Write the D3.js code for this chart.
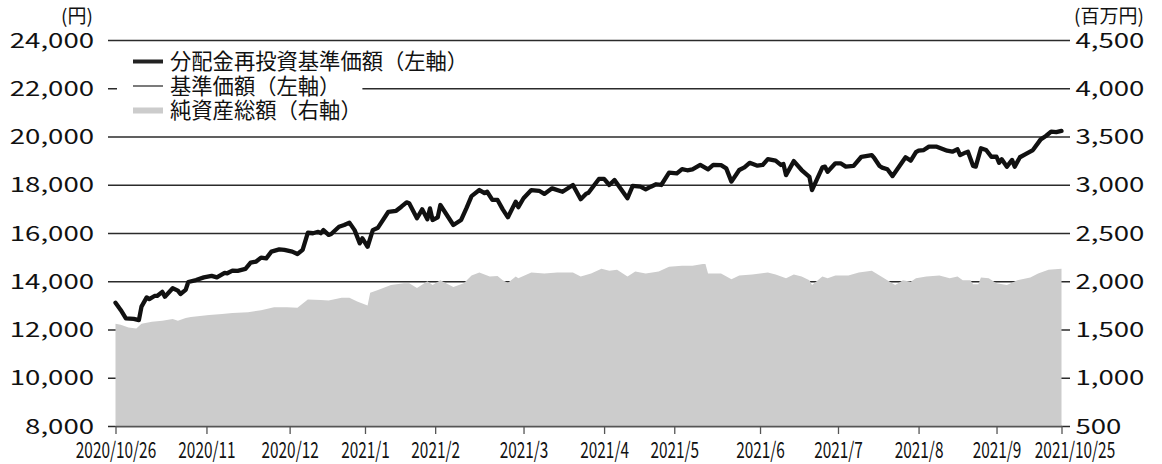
<!DOCTYPE html>
<html>
<head>
<meta charset="UTF-8">
<title>基準価額・純資産の推移</title>
<script src="https://cdn.jsdelivr.net/npm/d3@7"></script>
<style>
  body { margin: 0; background: #fff; }
  svg { display: block; font-family: "Noto Sans CJK JP", "Noto Sans", sans-serif; }
  .grid line { stroke: #2b2b2b; stroke-width: 1.3; }
  .grid .domain { display: none; }
  .area { fill: #cccccc; }
  .nav { fill: none; stroke: #111; stroke-width: 4.3; stroke-linejoin: round; stroke-linecap: round; }
  .nav-thin { fill: none; stroke: #111; stroke-width: 1.2; }
  .xaxis line, .xaxis path { stroke: #555; stroke-width: 1.3; }
</style>
</head>
<body>
<div id="graphe"></div>
<script>
// 分配金再投資基準価額（円）: 日付と値
var navDates = ["2020-10-26","2020-10-28","2020-10-30","2020-11-02","2020-11-04","2020-11-05","2020-11-07","2020-11-08","2020-11-10","2020-11-11",
  "2020-11-13","2020-11-14","2020-11-17","2020-11-19","2020-11-20","2020-11-22","2020-11-23","2020-11-26","2020-11-29","2020-12-02",
  "2020-12-04","2020-12-07","2020-12-08","2020-12-10","2020-12-12","2020-12-15","2020-12-17","2020-12-19","2020-12-21","2020-12-23",
  "2020-12-25","2020-12-28","2020-12-30","2021-01-02","2021-01-04","2021-01-06","2021-01-08","2021-01-10","2021-01-12","2021-01-13",
  "2021-01-14","2021-01-16","2021-01-17","2021-01-20","2021-01-22","2021-01-24","2021-01-26","2021-01-28","2021-01-29","2021-01-31",
  "2021-02-02","2021-02-04","2021-02-08","2021-02-11","2021-02-13","2021-02-15","2021-02-16","2021-02-19","2021-02-21","2021-02-23",
  "2021-02-24","2021-02-25","2021-02-27","2021-02-28","2021-03-05","2021-03-08","2021-03-10","2021-03-12","2021-03-15","2021-03-17",
  "2021-03-18","2021-03-20","2021-03-22","2021-03-24","2021-03-26","2021-03-29","2021-03-30","2021-04-01","2021-04-04","2021-04-07",
  "2021-04-09","2021-04-12","2021-04-16","2021-04-20","2021-04-23","2021-04-25","2021-04-26","2021-04-30","2021-05-02","2021-05-04",
  "2021-05-06","2021-05-11","2021-05-13","2021-05-16","2021-05-18","2021-05-20","2021-05-22","2021-05-24","2021-05-27","2021-05-30",
  "2021-06-01","2021-06-03","2021-06-05","2021-06-08","2021-06-11","2021-06-13","2021-06-16","2021-06-18","2021-06-20","2021-06-23",
  "2021-06-25","2021-06-27","2021-06-30","2021-07-02","2021-07-04","2021-07-07","2021-07-09","2021-07-10","2021-07-11","2021-07-14",
  "2021-07-17","2021-07-20","2021-07-21","2021-07-25","2021-07-26","2021-07-27","2021-07-30","2021-08-01","2021-08-03","2021-08-06",
  "2021-08-09","2021-08-13","2021-08-14","2021-08-16","2021-08-17","2021-08-19","2021-08-21","2021-08-26","2021-08-28","2021-08-30",
  "2021-08-31","2021-09-02","2021-09-04","2021-09-07","2021-09-11","2021-09-13","2021-09-15","2021-09-16","2021-09-18","2021-09-19",
  "2021-09-21","2021-09-22","2021-09-24","2021-09-26","2021-09-28","2021-09-30","2021-10-01","2021-10-02","2021-10-04","2021-10-06",
  "2021-10-07","2021-10-09","2021-10-11","2021-10-14","2021-10-17","2021-10-19","2021-10-21","2021-10-23","2021-10-25"];
var navValues = [13110,12810,12460,12440,12390,12950,13330,13260,13390,13390,
  13560,13360,13710,13610,13470,13640,13970,14050,14160,14220,
  14160,14350,14330,14440,14430,14510,14770,14810,14980,14950,
  15230,15320,15300,15230,15130,15300,16010,15990,16050,15990,
  16120,15920,15960,16260,16330,16430,16120,15570,15780,15430,
  16120,16220,16880,16920,17090,17270,17230,16610,16980,16570,
  17020,16540,16650,17160,16330,16540,17020,17530,17780,17650,
  17710,17370,17370,16980,16650,17300,17070,17440,17780,17750,
  17620,17850,17710,17990,17400,17620,17670,18240,18240,17990,
  18200,17440,17950,17920,17810,17920,18020,17990,18500,18470,
  18650,18600,18640,18820,18640,18820,18810,18680,18130,18610,
  18720,18910,18790,18820,19060,19000,18820,18860,18400,18980,
  18610,18330,17780,18720,18750,18540,18890,18890,18750,18780,
  19160,19230,19100,18780,18710,18640,18360,19140,19000,19350,
  19410,19440,19580,19580,19410,19370,19470,19230,19330,19370,
  18780,18750,19510,19440,19160,19160,18910,19060,18750,19030,
  18750,19140,19260,19440,19880,20020,20200,20180,20230];

// 純資産総額（百万円）
var assetDates = ["2020-10-26","2020-10-28","2020-10-31","2020-11-03","2020-11-05","2020-11-09","2020-11-13","2020-11-17","2020-11-19","2020-11-22",
  "2020-11-24","2020-12-01","2020-12-06","2020-12-10","2020-12-16","2020-12-21","2020-12-26","2020-12-31","2021-01-04","2021-01-08",
  "2021-01-13","2021-01-16","2021-01-21","2021-01-24","2021-01-27","2021-01-29","2021-01-31","2021-02-01","2021-02-04","2021-02-09",
  "2021-02-14","2021-02-16","2021-02-19","2021-02-23","2021-02-25","2021-02-28","2021-03-05","2021-03-09","2021-03-12","2021-03-15",
  "2021-03-19","2021-03-22","2021-03-24","2021-03-26","2021-03-29","2021-03-30","2021-04-04","2021-04-09","2021-04-14","2021-04-20",
  "2021-04-23","2021-04-27","2021-05-01","2021-05-04","2021-05-07","2021-05-11","2021-05-14","2021-05-18","2021-05-23","2021-05-27",
  "2021-06-01","2021-06-05","2021-06-09","2021-06-10","2021-06-11","2021-06-16","2021-06-20","2021-06-23","2021-06-28","2021-07-04",
  "2021-07-07","2021-07-11","2021-07-14","2021-07-17","2021-07-20","2021-07-21","2021-07-25","2021-07-27","2021-07-30","2021-08-04",
  "2021-08-08","2021-08-13","2021-08-16","2021-08-19","2021-08-22","2021-08-25","2021-08-28","2021-08-30","2021-09-03","2021-09-08",
  "2021-09-12","2021-09-15","2021-09-17","2021-09-20","2021-09-21","2021-09-23","2021-09-24","2021-09-27","2021-09-30","2021-10-04",
  "2021-10-08","2021-10-13","2021-10-16","2021-10-20","2021-10-25"];
var assetValues = [1560,1550,1520,1510,1560,1580,1590,1610,1590,1620,
  1630,1650,1660,1670,1680,1700,1730,1730,1725,1810,
  1805,1800,1830,1830,1790,1770,1750,1880,1910,1960,
  1980,1980,1930,2000,1960,2010,1940,1980,2060,2090,
  2050,2055,2010,1985,2050,2030,2090,2080,2090,2090,
  2050,2080,2130,2110,2120,2050,2100,2080,2100,2150,
  2160,2160,2180,2180,2080,2080,2020,2060,2070,2090,
  2070,2030,2070,2050,2010,1960,2050,2030,2060,2060,
  2090,2110,2060,2010,1960,2010,1995,2030,2050,2060,
  2030,2050,2010,2010,1970,1970,2040,2030,1980,1960,
  2010,2040,2080,2120,2130];

var startDate = "2020-10-26", endDate = "2021-10-25";
var leftTicks = [8000, 10000, 12000, 14000, 16000, 18000, 20000, 22000, 24000];
var rightTicks = [500, 1000, 1500, 2000, 2500, 3000, 3500, 4000, 4500];
var xTickDates = ["2020-10-26","2020-11-30","2021-01-01","2021-01-30","2021-02-26","2021-04-01","2021-05-02",
  "2021-05-29","2021-07-01","2021-07-31","2021-08-31","2021-09-30","2021-10-25"];
var xTickLabels = ["2020/10/26","2020/11","2020/12","2021/1","2021/2","2021/3","2021/4",
  "2021/5","2021/6","2021/7","2021/8","2021/9","2021/10/25"];
var legendNames = ["分配金再投資基準価額（左軸）", "基準価額（左軸）", "純資産総額（右軸）"];

var W = 1162, H = 464;
var parse = d3.timeParse("%Y-%m-%d");
var nav = navDates.map(function(d, i) { return {date: parse(d), value: navValues[i]}; });
var assets = assetDates.map(function(d, i) { return {date: parse(d), value: assetValues[i]}; });

var svg = d3.select("#graphe").append("svg").attr("width", W).attr("height", H);

var x = d3.scaleTime().domain([parse(startDate), parse(endDate)]).range([115.5, 1061.5]);
var yL = d3.scaleLinear().domain([8000, 24000]).range([426, 40]);
var yR = d3.scaleLinear().domain([500, 4500]).range([426, 40]);

// grid lines (behind everything)
svg.append("g").attr("class", "grid")
  .attr("transform", "translate(1070,0)")
  .call(d3.axisLeft(yL).tickValues(leftTicks).tickSize(962).tickFormat(""));

// 純資産総額 area
svg.append("path").datum(assets).attr("class", "area")
  .attr("d", d3.area().x(function(d) { return x(d.date); }).y0(yR(500)).y1(function(d) { return yR(d.value); }));

// x axis
var xa = svg.append("g").attr("class", "xaxis")
  .attr("transform", "translate(0,426)")
  .call(d3.axisBottom(x).tickValues(xTickDates.map(parse)).tickSize(8).tickSizeOuter(0)
    .tickFormat(function(d, i) { return xTickLabels[i]; }));
xa.selectAll("text")
  .attr("font-family", "'Noto Sans CJK JP', sans-serif").attr("font-size", 22).attr("fill", "#111")
  .attr("y", 0).attr("dy", 0)
  .attr("transform", function(d, i) {
    // 最終ラベルは右へ寄せる
    var shift = i === xTickLabels.length - 1 ? 13 : 0;
    return "translate(" + shift + ",32) scale(0.7,1)";
  });

// lines: 基準価額 (thin) と 分配金再投資基準価額 (thick) — 分配金なしで重なる
var line = d3.line().x(function(d) { return x(d.date); }).y(function(d) { return yL(d.value); });
svg.append("path").datum(nav).attr("class", "nav-thin").attr("d", line);
svg.append("path").datum(nav).attr("class", "nav").attr("d", line);

// left axis labels
var la = svg.append("g").attr("transform", "translate(108,0)")
  .call(d3.axisLeft(yL).tickValues(leftTicks).tickSize(0).tickFormat(d3.format(",")));
la.select(".domain").remove();
la.selectAll("text")
  .attr("font-family", "'Noto Sans CJK JP', sans-serif").attr("font-size", 20).attr("fill", "#111")
  .attr("x", -14 / 1.38).attr("dy", "0.36em")
  .attr("transform", "scale(1.38,1)");

// right axis labels
var ra = svg.append("g").attr("transform", "translate(1061.5,0)")
  .call(d3.axisRight(yR).tickValues(rightTicks).tickSize(0).tickFormat(d3.format(",")));
ra.select(".domain").remove();
ra.selectAll("text")
  .attr("font-family", "'Noto Sans CJK JP', sans-serif").attr("font-size", 20).attr("fill", "#111")
  .attr("x", 14 / 1.38).attr("dy", "0.36em")
  .attr("transform", "scale(1.38,1)");

// units
svg.append("text").attr("x", 77).attr("y", 23).attr("text-anchor", "middle")
  .attr("font-size", 19).attr("fill", "#111").text("(円)");
svg.append("text").attr("x", 1074).attr("y", 23).attr("text-anchor", "start")
  .attr("font-size", 19).attr("fill", "#111").text("(百万円)");

// legend
var legend = svg.append("g");
legendNames.forEach(function(name, i) {
  var cy = 61.5 + i * 24.5;
  var g = legend.append("g");
  var bg = g.append("rect").attr("fill", "#fff");
  if (i === 0) g.append("line").attr("x1", 133).attr("x2", 163).attr("y1", cy).attr("y2", cy)
    .attr("stroke", "#222").attr("stroke-width", 4);
  if (i === 1) g.append("line").attr("x1", 133).attr("x2", 163).attr("y1", cy).attr("y2", cy)
    .attr("stroke", "#222").attr("stroke-width", 1.2);
  if (i === 2) g.append("rect").attr("x", 133).attr("y", cy - 3).attr("width", 30).attr("height", 6)
    .attr("fill", "#cccccc");
  var t = g.append("text").attr("x", 170).attr("y", cy).attr("dy", "0.36em")
    .attr("font-size", 21.3).attr("fill", "#111").text(name);
  var w = t.node().getComputedTextLength();
  bg.attr("x", 117).attr("y", cy - 12).attr("width", 170 + w + 22 - 117).attr("height", 24);
});
</script>
</body>
</html>
